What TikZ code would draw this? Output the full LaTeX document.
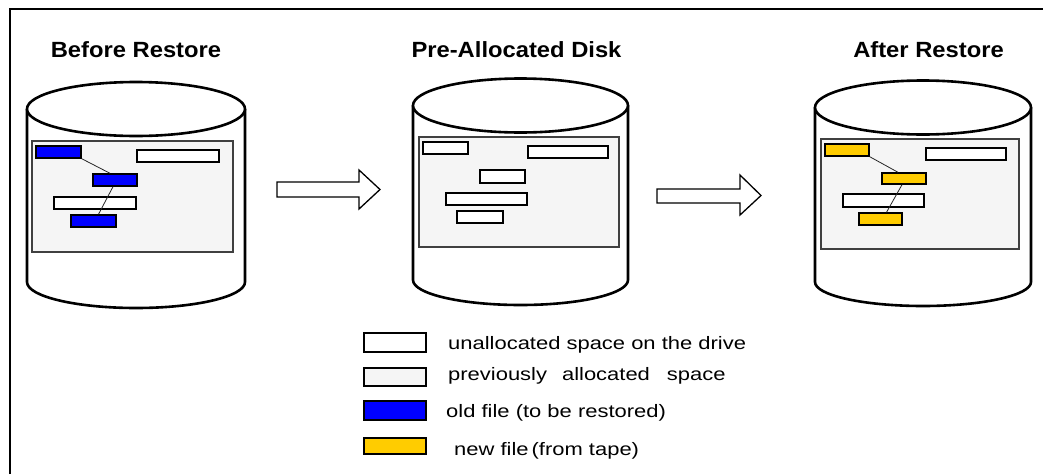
\documentclass[tikz,border=0pt]{standalone}
\usepackage{fontspec}
\setmainfont{Liberation Sans}
\newfontfamily\titlefont[FakeStretch=1.08]{Liberation Sans}
\newfontfamily\keyfont[FakeStretch=1.22]{Liberation Sans}
\usetikzlibrary{fit}

\definecolor{panelgray}{HTML}{F5F5F5}
\definecolor{dotgray}{HTML}{D8D8D8}
\definecolor{oldblue}{HTML}{0000FF}
\definecolor{newgold}{HTML}{FFCC00}

% faint dot grid inside a rectangle
\newcommand\dotgrid[4]{%
  \begin{scope}
    \clip (#1,#2) rectangle (#3,#4);
    \foreach \dx in {0,7.5,...,210} {
      \foreach \dy in {0,8,...,120} {
        \fill[dotgray] (#1+4+\dx,#2+4+\dy) circle (0.55pt);
      }
    }
  \end{scope}
}

\tikzset{
  frameline/.style={line width=1.5pt, draw=black},
  drumline/.style={line width=2.6pt, draw=black, fill=white, line join=round},
  panel/.style={draw=black!75, line width=1.2pt, fill=panelgray, inner sep=0pt},
  blk/.style={draw=black, line width=1.4pt, inner sep=0pt},
  freeblk/.style={blk, fill=white},
  oldblk/.style={blk, fill=oldblue},
  newblk/.style={blk, fill=newgold},
  link/.style={draw=black!85, line width=0.8pt},
  blockarrow/.style={draw=black, line width=1.3pt, fill=white, line join=miter},
  title/.style={font=\titlefont\bfseries\fontsize{22}{26}\selectfont, anchor=base, inner sep=0pt},
  keybox/.style={draw=black, line width=1.6pt, inner sep=0pt},
  keytext/.style={font=\keyfont\fontsize{18}{22}\selectfont, anchor=base west, inner sep=0pt},
}

% drum: centre x, y of top rim, x radius, top y radius, y of bottom rim, bottom y radius
\newcommand\drum[6]{%
  \draw[drumline] (#1-#3,#2) -- (#1-#3,#5)
    arc[start angle=180, end angle=360, x radius=#3pt, y radius=#6pt]
    -- (#1+#3,#2);
  \draw[drumline] (#1,#2) ellipse [x radius=#3pt, y radius=#4pt];
}

\begin{document}
\begin{tikzpicture}[x=1pt,y=-1pt]
\useasboundingbox (0,0) rectangle (1043,474);
\fill[white] (0,0) rectangle (1043,474);

% outer frame (top and left edges)
\draw[frameline] (10,474) -- (10,9) -- (1043,9);

% titles
\node[title] (t1) at (136,57.5) {Before Restore};
\node[title] (t2) at (516.5,57.5) {Pre-Allocated Disk};
\node[title] (t3) at (928.5,57.5) {After Restore};

% ---------- drum 1: before restore ----------
\drum{136}{109}{109}{27}{282}{26}
\node[panel, fit={(32,141) (233,252)}, path picture={\dotgrid{32}{141}{233}{252}}] (p1) {};
\node[freeblk, fit={(137,150) (219,162)}] (e1) {};
\node[freeblk, fit={(54,197) (136,209)}] (c1) {};
\node[oldblk, fit={(36,146) (81,158)}] (a1) {};
\node[oldblk, fit={(93,174) (137,186)}] (b1) {};
\node[oldblk, fit={(71,215) (116,227)}] (d1) {};
\draw[link] (a1.south east) -- ([xshift=-5pt]b1.north);
\draw[link] ([xshift=-2pt]b1.south) -- ([xshift=5pt]d1.north);

% ---------- drum 2: pre-allocated ----------
\drum{520.5}{105.5}{107.5}{27}{280}{25}
\node[panel, fit={(419,137) (619,247)}, path picture={\dotgrid{419}{137}{619}{247}}] (p2) {};
\node[freeblk, fit={(423,142) (468,154)}] (a2) {};
\node[freeblk, fit={(528,146) (608,158)}] (e2) {};
\node[freeblk, fit={(480,170) (525,183)}] (b2) {};
\node[freeblk, fit={(446,193) (527,205)}] (c2) {};
\node[freeblk, fit={(457,211) (503,223)}] (d2) {};

% ---------- drum 3: after restore ----------
\drum{923}{107.5}{108}{27}{282}{24}
\node[panel, fit={(821,139) (1019,249)}, path picture={\dotgrid{821}{139}{1019}{249}}] (p3) {};
\node[freeblk, fit={(926,148) (1006,160)}] (e3) {};
\node[freeblk, fit={(843,194) (924,207)}] (c3) {};
\node[newblk, fit={(825,144) (869,156)}] (a3) {};
\node[newblk, fit={(882,173) (926,184)}] (b3) {};
\node[newblk, fit={(859,213) (902,225)}] (d3) {};
\draw[link] (a3.south east) -- ([xshift=-6pt]b3.north);
\draw[link] ([xshift=-2pt]b3.south) -- ([xshift=6pt]d3.north);

% ---------- block arrows between the drums ----------
\draw[blockarrow] (277,182) -- (359,182) -- (359,170) -- (380,189.5)
  -- (359,209) -- (359,197) -- (277,197) -- cycle;
\draw[blockarrow] (657,189) -- (740,189) -- (740,175) -- (761,195.5)
  -- (740,215) -- (740,203) -- (657,203) -- cycle;

% ---------- key ----------
\node[keybox, fill=white, fit={(364,333) (426,352)}] (k1) {};
\node[keybox, fill=panelgray, fit={(364,368) (426,386)}, path picture={\dotgrid{364}{368}{426}{386}}] (k2) {};
\node[keybox, fill=oldblue, fit={(364,401) (426,420)}] (k3) {};
\node[keybox, fill=newgold, fit={(364,438) (426,454)}] (k4) {};

\node[keytext] (l1) at (448,349) {unallocated space on the drive};
\node[keytext] (l2) at (448,380) {previously\hspace{15pt}allocated\hspace{17pt}space};
\node[keytext] (l3) at (446,417) {old file (to be restored)};
\node[keytext] (l4) at (454,455) {new file\hspace{3pt}(from tape)};
\end{tikzpicture}
\end{document}
